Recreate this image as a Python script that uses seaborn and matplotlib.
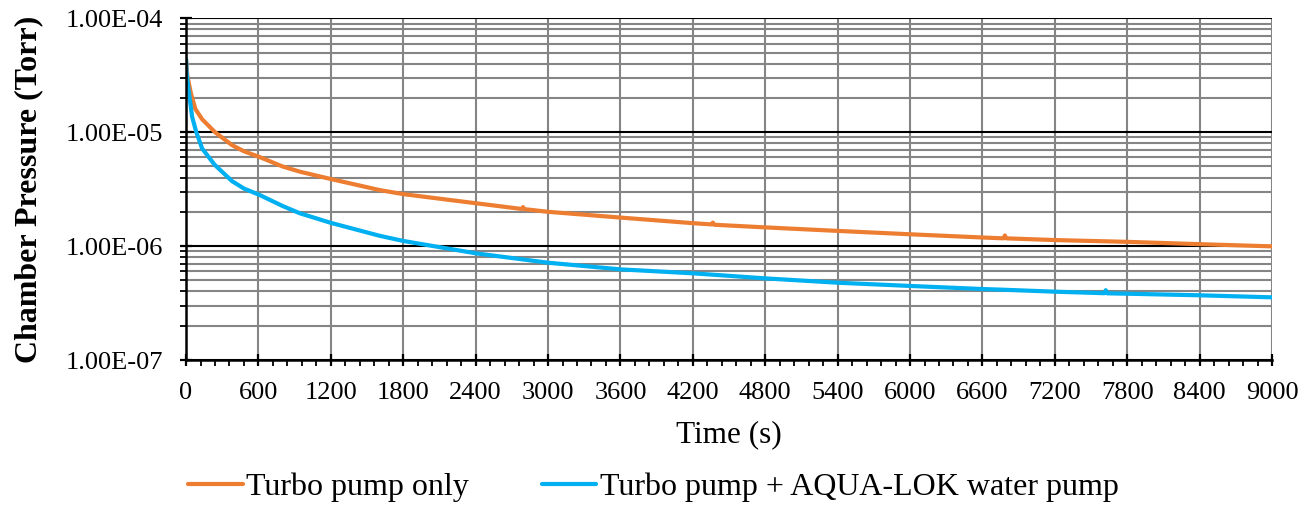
import numpy as np
import pandas as pd
import matplotlib
matplotlib.use("Agg")
import matplotlib.pyplot as plt
import matplotlib.ticker as mticker
import seaborn as sns

# Values (time in s, pressure in Torr)
time_turbo = [0, 11, 20, 40, 77, 133, 240, 381, 480, 610, 800, 944, 1200, 1607, 1800,
              2400, 2780, 2793, 2806, 3000, 3600, 4200, 4355, 4366, 4377, 4800,
              5400, 6000, 6600, 6775, 6786, 6797, 7200, 7800, 8400, 9000]
p_turbo = [4.37e-5, 3.1e-5, 2.8e-5, 2.2e-5, 1.6e-5, 1.3e-5, 1.0e-5, 7.7e-6, 6.8e-6,
           6.05e-6, 5.0e-6, 4.5e-6, 3.88e-6, 3.1e-6, 2.86e-6,
           2.38e-6, 2.12e-6, 2.2e-6, 2.11e-6, 2.0e-6, 1.78e-6, 1.59e-6, 1.55e-6, 1.61e-6,
           1.54e-6, 1.46e-6,
           1.36e-6, 1.27e-6, 1.19e-6, 1.17e-6, 1.24e-6, 1.17e-6, 1.13e-6, 1.09e-6,
           1.04e-6, 0.995e-6]

time_aqua = [0, 5, 22, 50, 85, 133, 235, 381, 480, 610, 800, 944, 1200, 1607, 1800,
             2400, 3000, 3600, 4200, 4800, 5400, 6000, 6600, 6750, 7200, 7610,
             7622, 7634, 7800, 8400, 9000]
p_aqua = [4.37e-5, 3.3e-5, 2.3e-5, 1.37e-5, 1.0e-5, 7.2e-6, 5.2e-6, 3.72e-6, 3.2e-6,
          2.81e-6, 2.25e-6, 1.94e-6, 1.6e-6, 1.23e-6, 1.11e-6,
          8.65e-7, 7.15e-7, 6.25e-7, 5.77e-7, 5.21e-7, 4.77e-7, 4.47e-7, 4.2e-7,
          4.15e-7, 3.98e-7, 3.86e-7, 4.1e-7, 3.85e-7, 3.82e-7, 3.70e-7, 3.55e-7]

series_names = ["Turbo pump only", "Turbo pump + AQUA-LOK water pump"]
series_colors = ["#ED7D31", "#00B0F0"]

df = pd.concat([
    pd.DataFrame({"Time": time_turbo, "Pressure": p_turbo, "Series": series_names[0]}),
    pd.DataFrame({"Time": time_aqua, "Pressure": p_aqua, "Series": series_names[1]}),
], ignore_index=True)

sns.set_theme(style="ticks")
plt.rcParams["font.family"] = ["Liberation Serif", "DejaVu Serif"]
plt.rcParams["text.color"] = "black"
plt.rcParams["axes.labelcolor"] = "black"

fig = plt.figure(figsize=(13.13, 5.08), dpi=100)
ax = fig.add_axes([0.1417, 0.2913, 0.8271, 0.6727])

sns.lineplot(data=df, x="Time", y="Pressure", hue="Series", hue_order=series_names,
             palette=series_colors, linewidth=3.0, ax=ax, legend=False, sort=False)

ax.set_yscale("log")
ax.set_xlim(0, 9000)
ax.set_ylim(1e-7, 1e-4)

ax.xaxis.set_major_locator(mticker.MultipleLocator(600))
ax.xaxis.set_minor_locator(mticker.MultipleLocator(120))
ax.yaxis.set_major_locator(mticker.LogLocator(base=10, numticks=10))
ax.yaxis.set_minor_locator(mticker.LogLocator(base=10, subs=np.arange(2, 10), numticks=30))
ax.yaxis.set_major_formatter(mticker.FuncFormatter(lambda v, pos: f"{v:.2E}"))
ax.yaxis.set_minor_formatter(mticker.NullFormatter())

ax.grid(which="major", axis="x", color="#858585", linewidth=1.5)
ax.grid(which="major", axis="y", color="black", linewidth=1.5)
ax.grid(which="minor", axis="y", color="#858585", linewidth=1.5)
ax.set_axisbelow(True)

for side in ["top", "right"]:
    ax.spines[side].set_visible(False)
for side in ["left", "bottom"]:
    ax.spines[side].set_color("black")
    ax.spines[side].set_linewidth(1.8)

ax.tick_params(which="major", direction="inout", length=9, width=1.6, colors="black",
               labelsize=19)
ax.tick_params(which="minor", direction="out", length=4.5, width=1.3, colors="black")
ax.tick_params(axis="y", which="major", pad=12)
ax.tick_params(axis="x", which="major", pad=11)

ax.set_xlabel("Time (s)", fontsize=22.5, labelpad=12)
ax.set_ylabel("Chamber Pressure (Torr)", fontsize=23, fontweight="bold", labelpad=16)

handles = [plt.Line2D([], [], color=c, linewidth=3.0) for c in series_colors]
fig.legend(handles, series_names, loc="center", bbox_to_anchor=(0.4977, 0.041),
           ncol=2, frameon=False, fontsize=23, handlelength=1.7, handletextpad=0.1,
           columnspacing=2.3, borderaxespad=0, borderpad=0)

fig.savefig("out.png", dpi=100)
